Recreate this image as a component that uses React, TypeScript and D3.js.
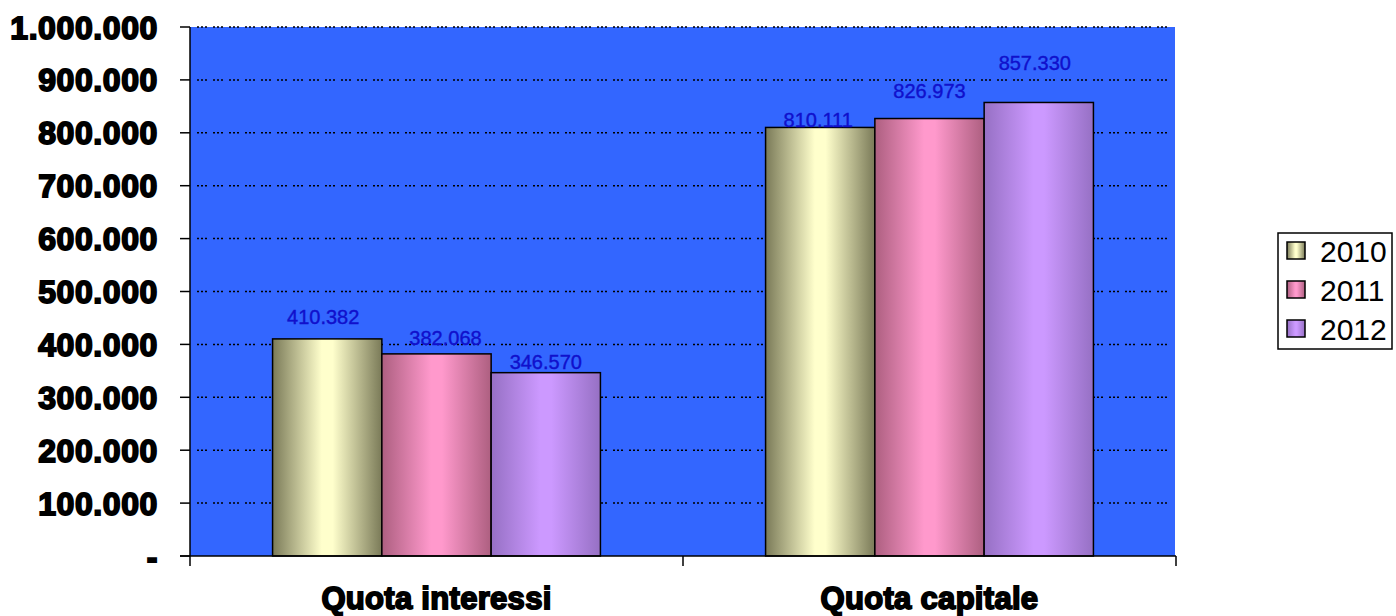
import React from "react";
import * as d3 from "d3";

const categories = ["Quota interessi", "Quota capitale"];
const years = ["2010", "2011", "2012"];
const values2010 = [410382, 810111];
const values2011 = [382068, 826973];
const values2012 = [346570, 857330];
const yTicks = [0, 100000, 200000, 300000, 400000, 500000, 600000, 700000, 800000, 900000, 1000000];
// how far each data label sits above its bar (as Excel placed them), per series, per category
const labelLift = [
  [22, 7],
  [16, 28],
  [11, 39],
];
const labelShift = [
  [-4, -2],
  [9, 0],
  [0, -4],
];

const seriesValues = [values2010, values2011, values2012];
const gradients = [
  { id: "g2010", edge: "#7a7a58", mid: "#ffffcc" },
  { id: "g2011", edge: "#ad5f80", mid: "#ff99cc" },
  { id: "g2012", edge: "#9670c4", mid: "#cc99ff" },
];

const W = 1396;
const H = 616;
const M = { left: 190, right: 1176, top: 27, bottom: 556 };

const locale = d3.formatLocale({ decimal: ",", thousands: ".", grouping: [3], currency: ["€", ""] });
const fmt = locale.format(",.0f");

export default function App() {
  const y = d3.scaleLinear().domain([0, 1000000]).range([M.bottom, M.top]);
  const x0 = d3.scaleBand<string>().domain(categories).range([M.left, M.right]).padding(0);
  const inner = x0.bandwidth();
  const x1 = d3
    .scaleBand<string>()
    .domain(years)
    .range([inner * 0.1675, inner * 0.8325])
    .padding(0);

  const axisFont = "'Liberation Sans', Arial, sans-serif";

  return (
    <svg width={W} height={H} style={{ position: "absolute", left: 0, top: 0, background: "#fff" }}>
      <defs>
        {gradients.map((g) => (
          <linearGradient key={g.id} id={g.id} x1="0" x2="1" y1="0" y2="0">
            <stop offset="0" stopColor={g.edge} />
            <stop offset="0.45" stopColor={g.mid} />
            <stop offset="0.55" stopColor={g.mid} />
            <stop offset="1" stopColor={g.edge} />
          </linearGradient>
        ))}
      </defs>
      <rect x={M.left} y={M.top} width={M.right - M.left - 1} height={M.bottom - M.top} fill="#3366ff" />
      {yTicks
        .filter((t) => t > 0)
        .map((t) => (
          <line
            key={"g" + t}
            x1={M.left + 7}
            x2={M.right - 4}
            y1={y(t)}
            y2={y(t)}
            stroke="#000"
            strokeWidth={1.5}
            strokeDasharray="2,2,2,2,2,6"
          />
        ))}
      {categories.map((c, ci) =>
        years.map((yr, si) => {
          const v = seriesValues[si][ci];
          const bx = (x0(c) as number) + (x1(yr) as number);
          return (
            <rect
              key={c + yr}
              x={bx}
              y={y(v)}
              width={x1.bandwidth()}
              height={M.bottom - y(v)}
              fill={`url(#${gradients[si].id})`}
              stroke="#000"
              strokeWidth={1.5}
            />
          );
        })
      )}
      {categories.map((c, ci) =>
        years.map((yr, si) => {
          const v = seriesValues[si][ci];
          const cx = (x0(c) as number) + (x1(yr) as number) + x1.bandwidth() / 2 + labelShift[si][ci];
          return (
            <text
              key={"l" + c + yr}
              x={cx}
              y={y(v) - labelLift[si][ci]}
              dy="0.35em"
              textAnchor="middle"
              fontFamily="'Liberation Sans', Arial, sans-serif"
              fontSize={20}
              fill="#1010cc"
              stroke="#1010cc"
              strokeWidth={0.4}
            >
              {fmt(v)}
            </text>
          );
        })
      )}
      {/* y axis */}
      <line x1={M.left} x2={M.left} y1={M.top} y2={M.bottom} stroke="#000" strokeWidth={1.5} />
      {yTicks.map((t) => (
        <g key={"t" + t}>
          <line x1={M.left - 10} x2={M.left} y1={y(t)} y2={y(t)} stroke="#000" strokeWidth={1.5} />
          <text
            x={158}
            y={y(t)}
            dy="0.36em"
            textAnchor="end"
            fontFamily={axisFont}
            fontWeight="bold"
            fontSize={32}
            stroke="#000"
            strokeWidth={1.8}
            fill="#000"
            letterSpacing={0.6}
          >
            {t === 0 ? "-" : fmt(t)}
          </text>
        </g>
      ))}
      {/* x axis */}
      <line x1={M.left - 10} x2={M.right} y1={M.bottom} y2={M.bottom} stroke="#000" strokeWidth={1.5} />
      {[...categories.map((c) => x0(c) as number), M.right].map((tx, i) => (
        <line key={"xt" + i} x1={tx} x2={tx} y1={M.bottom} y2={M.bottom + 10} stroke="#000" strokeWidth={1.5} />
      ))}
      {categories.map((c) => (
        <text
          key={"xl" + c}
          x={(x0(c) as number) + inner / 2}
          y={598}
          dy="0.35em"
          textAnchor="middle"
          fontFamily={axisFont}
          fontWeight="bold"
          fontSize={31}
          stroke="#000"
          strokeWidth={1.8}
          fill="#000"
          letterSpacing={0.3}
        >
          {c}
        </text>
      ))}
      {/* legend */}
      <rect x={1278} y={233} width={114} height={116} fill="#fff" stroke="#000" strokeWidth={1.5} />
      {years.map((yr, i) => (
        <g key={"lg" + yr} transform={`translate(0, ${251 + i * 39})`}>
          <rect x={1287} y={-9} width={18} height={17} fill={`url(#${gradients[i].id})`} stroke="#000" strokeWidth={1.5} />
          <text x={1320} y={0} dy="0.36em" fontFamily={axisFont} fontSize={30} fill="#000">
            {yr}
          </text>
        </g>
      ))}
    </svg>
  );
}
